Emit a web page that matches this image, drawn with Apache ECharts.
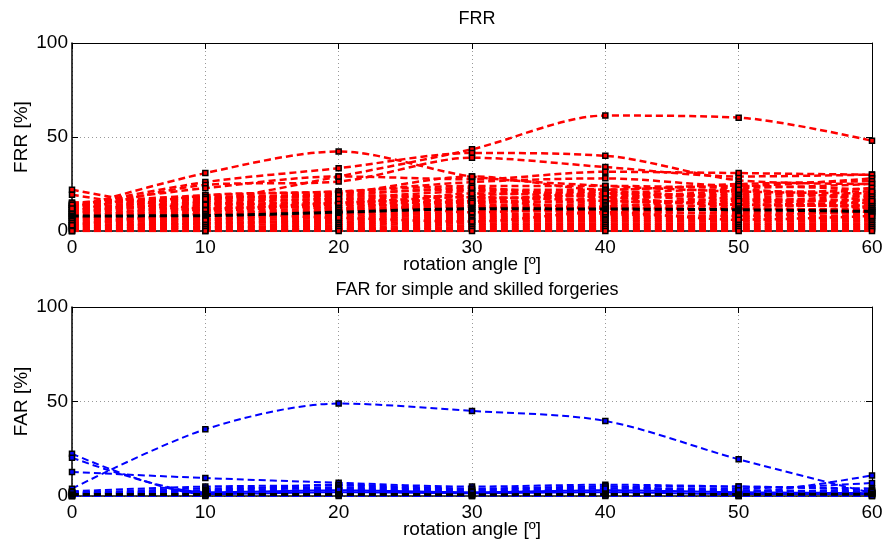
<!DOCTYPE html>
<html>
<head>
<meta charset="utf-8">
<script src="https://cdn.jsdelivr.net/npm/echarts@6/dist/echarts.min.js"></script>
<style>
html,body{margin:0;padding:0;background:#fff;}
#chart{width:883px;height:539px;}
</style>
</head>
<body>
<div id="chart"></div>
<script>
// rotation angles (x values)
const angles = [0, 10, 20, 30, 40, 50, 60];

// FRR per user [%] (red)
const frr01 = [11, 16, 29, 43.5, 61.4, 60.3, 48];
const frr02 = [12, 30.8, 42.3, 29, 24, 21, 20];
const frr03 = [22, 12, 15, 18, 16, 14, 13];
const frr04 = [19.3, 11, 14, 16, 20, 17, 15];
const frr05 = [13, 26, 33.4, 41.5, 40, 27, 25];
const frr06 = [10, 24.5, 26.3, 39, 34, 29, 30];
const frr07 = [14, 22.8, 29, 27.5, 31.5, 30.8, 29.9];
const frr08 = [9, 19, 21, 26, 28, 24, 28];
const frr09 = [15, 18, 20, 29, 22, 25, 26.5];
const frr10 = [15, 19, 21, 24, 24, 23, 25];
const frr11 = [14, 17, 20, 22, 22, 24, 22];
const frr12 = [13, 18, 18, 21, 20, 19, 23];
const frr13 = [12, 16, 17, 19, 21, 18, 20];
const frr14 = [11, 15, 19, 18, 17, 20, 18];
const frr15 = [10, 14, 15, 17, 19, 16, 19];
const frr16 = [9, 13, 16, 16, 15, 17, 16];
const frr17 = [8, 12, 13, 15, 16, 15, 17];
const frr18 = [7, 11, 14, 14, 14, 13, 14];
const frr19 = [6, 10, 12, 13, 12, 14, 13];
const frr20 = [5, 9, 11, 12, 13, 11, 12];
const frr21 = [5, 8, 10, 11, 10, 12, 11];
const frr22 = [4, 7, 9, 10, 11, 9, 10];
const frr23 = [4, 6, 8, 9, 9, 10, 9];
const frr24 = [3, 5, 7, 8, 8, 8, 8];
const frr25 = [3, 4, 6, 7, 7, 7, 7];
const frr26 = [2, 4, 5, 6, 6, 6, 6];
const frr27 = [2, 3, 4, 5, 5, 5, 5];
const frr28 = [1, 2, 3, 4, 4, 4, 4];
const frr29 = [1, 2, 2, 3, 3, 3, 3];
const frr30 = [0, 1, 1, 2, 2, 2, 2];
const frr31 = [0, 0, 1, 1, 1, 1, 1];
const frr32 = [0, 0, 0, 0, 0, 0, 0];
const frr33 = [9, 15, 12, 20, 18, 14, 15];
const frr34 = [6, 12, 15, 10, 13, 16, 12];
const frr35 = [14, 11, 9, 16, 12, 12, 10];
const frr36 = [8, 6, 11, 13, 9, 8, 11];
const frr37 = [3, 9, 7, 5, 10, 6, 8];
const frr38 = [12, 17, 19, 23, 18, 21, 21];
const frr39 = [7, 14, 17, 15, 20, 22, 16];
const frrMean = [8, 8.2, 10, 11.8, 11.7, 11.3, 10.4];

// FAR per user [%] (blue)
const far01 = [3.9, 35.3, 48.9, 45, 39.7, 19.4, 1.5];
const far02 = [22.4, 1, 2, 1.5, 2, 1, 1];
const far03 = [20.3, 2, 3, 2, 3, 2, 1.5];
const far04 = [12.7, 9.5, 7, 5, 6, 5, 4];
const far05 = [2, 3, 6, 4, 5, 2, 10.9];
const far06 = [2.5, 5, 5.5, 3, 4, 4, 6.9];
const far07 = [1.5, 4, 4.5, 3.5, 5, 5, 3];
const far08 = [1, 3, 4, 2.5, 3, 3, 2.5];
const far09 = [1, 2.5, 3, 2, 2.5, 2.5, 2];
const far10 = [0.5, 2, 2.5, 1.5, 2, 1.5, 1.5];
const far11 = [0.5, 1.5, 2, 1, 1.5, 1, 1];
const far12 = [0, 1, 1.5, 0.5, 1, 0.5, 0.5];
const far13 = [0, 0.5, 1, 0, 0.5, 0, 0];
const far14 = [0, 0, 0, 0, 0, 0, 0];
const far15 = [2, 1, 3.5, 2, 4, 3, 2];
const farMean = [0.8, 0.8, 0.8, 0.7, 0.8, 0.8, 1];

// tick values
const xTickStep = 10;
const yTickStep = 50;

const frrSets = [frr01,frr02,frr03,frr04,frr05,frr06,frr07,frr08,frr09,frr10,frr11,frr12,frr13,frr14,frr15,frr16,frr17,frr18,frr19,frr20,frr21,frr22,frr23,frr24,frr25,frr26,frr27,frr28,frr29,frr30,frr31,frr32,frr33,frr34,frr35,frr36,frr37,frr38,frr39];
const farSets = [far01,far02,far03,far04,far05,far06,far07,far08,far09,far10,far11,far12,far13,far14,far15];

const FONT = "'Liberation Sans', Arial, Helvetica, sans-serif";

function mkSeries(vals, color, axisIdx, width, z) {
  return {
    type: 'line',
    xAxisIndex: axisIdx, yAxisIndex: axisIdx,
    data: angles.map((a, i) => [a, vals[i]]),
    smooth: 0.3,
    symbol: 'rect', symbolSize: 5,
    itemStyle: { color: color, borderColor: '#000', borderWidth: 1.5 },
    lineStyle: { color: color, width: width, type: [7, 4] },
    z: z,
    clip: true,
    animation: false,
    silent: true
  };
}

function xAxes(grid, name) {
  return [
    {
      gridIndex: grid, type: 'value', min: 0, max: 60, interval: xTickStep, position: 'bottom',
      name: name, nameLocation: 'middle', nameGap: 24, nameMoveOverlap: false,
      nameTextStyle: { fontFamily: FONT, fontSize: 19, color: '#000' },
      axisLine: { onZero: false, lineStyle: { color: '#000', width: 1.5 } },
      axisTick: { inside: true, length: 6, lineStyle: { color: '#000' } },
      axisLabel: { fontFamily: FONT, fontSize: 19, color: '#000', margin: 7 },
      splitLine: { show: true, lineStyle: { color: '#999', type: [1, 3], width: 1 } }
    },
    {
      gridIndex: grid, type: 'value', min: 0, max: 60, interval: xTickStep, position: 'top',
      axisLine: { onZero: false, lineStyle: { color: '#000', width: 1 } },
      axisTick: { inside: true, length: 6, lineStyle: { color: '#000' } },
      axisLabel: { show: false }, splitLine: { show: false }
    }
  ];
}
function yAxes(grid, name) {
  return [
    {
      gridIndex: grid, type: 'value', min: 0, max: 100, interval: yTickStep, position: 'left',
      name: name, nameLocation: 'middle', nameGap: 41, nameRotate: 90, nameMoveOverlap: false,
      nameTextStyle: { fontFamily: FONT, fontSize: 19, color: '#000' },
      axisLine: { show: true, onZero: false, lineStyle: { color: '#000', width: 1.5 } },
      axisTick: { show: true, inside: true, length: 6, lineStyle: { color: '#000' } },
      axisLabel: { fontFamily: FONT, fontSize: 19, color: '#000', margin: 4 },
      splitLine: { show: true, lineStyle: { color: '#999', type: [1, 3], width: 1 } }
    },
    {
      gridIndex: grid, type: 'value', min: 0, max: 100, interval: yTickStep, position: 'right',
      axisLine: { show: true, onZero: false, lineStyle: { color: '#000', width: 1 } },
      axisTick: { show: true, inside: true, length: 6, lineStyle: { color: '#000' } },
      axisLabel: { show: false }, splitLine: { show: false }
    }
  ];
}

const series = [];
frrSets.forEach(v => series.push(mkSeries(v, '#ff0000', 0, 2.5, 2)));
series.push(mkSeries(frrMean, '#000000', 0, 3, 3));
farSets.forEach(v => series.push(mkSeries(v, '#0000ff', 2, 2, 2)));
series.push(mkSeries(farMean, '#000000', 2, 3, 3));

const chart = echarts.init(document.getElementById('chart'), null, { renderer: 'canvas' });
chart.setOption({
  animation: false,
  backgroundColor: '#fff',
  title: [
    { text: 'FRR', left: 472, top: 5, textAlign: 'center',
      textStyle: { fontFamily: FONT, fontSize: 18, fontWeight: 'normal', color: '#000' } },
    { text: 'FAR for simple and skilled forgeries', left: 472, top: 276, textAlign: 'center',
      textStyle: { fontFamily: FONT, fontSize: 18, fontWeight: 'normal', color: '#000' } }
  ],
  grid: [
    { left: 72, right: 11, top: 43, height: 188, containLabel: false, outerBoundsMode: 'none' },
    { left: 72, right: 11, top: 307, height: 189, containLabel: false, outerBoundsMode: 'none' }
  ],
  xAxis: [...xAxes(0, 'rotation angle [º]'), ...xAxes(1, 'rotation angle [º]')],
  yAxis: [...yAxes(0, 'FRR [%]'), ...yAxes(1, 'FAR [%]')],
  series: series
});
</script>
</body>
</html>
